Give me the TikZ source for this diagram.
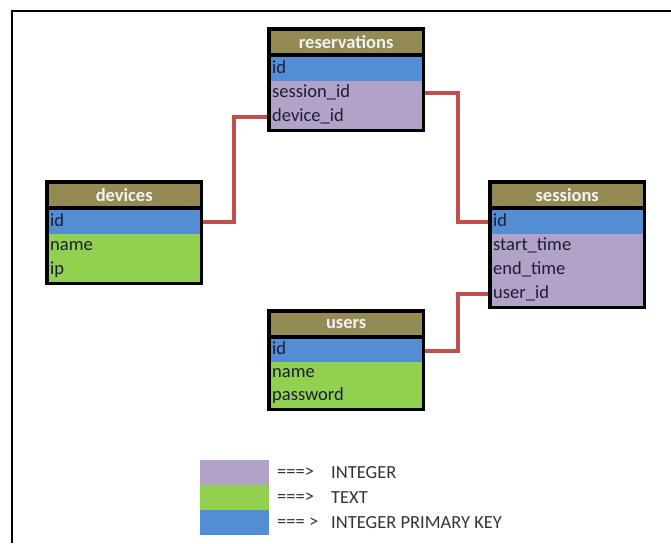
\documentclass[tikz,border=0pt]{standalone}
\usepackage{fontspec}
\setmainfont{Carlito}
\usetikzlibrary{calc}
\definecolor{hdrolive}{HTML}{948A54}
\definecolor{pkblue}{HTML}{538ED5}
\definecolor{intpurple}{HTML}{B3A2C7}
\definecolor{txtgreen}{HTML}{92D050}
\definecolor{linkred}{HTML}{C0504D}
\definecolor{fieldink}{HTML}{1C1C33}
\definecolor{legendink}{HTML}{333333}
\begin{document}
\begin{tikzpicture}[x=1pt,y=-1pt,
  tblframe/.style={fill=black, inner sep=0, anchor=north west, minimum width=158pt},
  hdr/.style={fill=hdrolive, text=white!95!black, font=\bfseries\fontsize{18.5}{18.5}\selectfont,
    inner sep=0, minimum width=151pt, minimum height=22pt, anchor=north west},
  fld/.style={inner xsep=1.5pt, inner ysep=0, minimum height=24pt, text width=148pt,
    anchor=north west, align=left, text=fieldink, font=\fontsize{18.5}{18.5}\selectfont,
    text height=12pt, text depth=4pt},
  link/.style={draw=linkred, line width=4pt, shorten <=3.5pt, shorten >=3.5pt},
  legbox/.style={inner sep=0, minimum width=69pt, minimum height=25pt, anchor=north west},
  legtxt/.style={anchor=west, inner sep=0, text=legendink, font=\fontsize{18.5}{18.5}\selectfont}]
\useasboundingbox (0,0) rectangle (671,543);
\draw[line width=2pt] (12,543) -- (12,11) -- (671,11);
% reservations
\node[tblframe, minimum height=105pt] (res) at (267,27) {};
\node[hdr] (res-h) at (270.5,31) {reservations};
\foreach \key/\txt/\col [count=\i from 0] in {id/id/pkblue, ses/session\_id/intpurple, dev/device\_id/intpurple}
  \node[fld, fill=\col] (res-\key) at (270.5,{57+24*\i}) {\txt};
% devices
\node[tblframe, minimum height=105pt] (dev) at (45,180) {};
\node[hdr] (dev-h) at (48.5,184) {devices};
\foreach \key/\txt/\col [count=\i from 0] in {id/id/pkblue, name/name/txtgreen, ip/ip/txtgreen}
  \node[fld, fill=\col] (dev-\key) at (48.5,{210+24*\i}) {\txt};
% sessions
\node[tblframe, minimum height=129pt] (ses) at (488,180) {};
\node[hdr] (ses-h) at (491.5,184) {sessions};
\foreach \key/\txt/\col [count=\i from 0] in {id/id/pkblue, start/start\_time/intpurple, end/end\_time/intpurple, user/user\_id/intpurple}
  \node[fld, fill=\col] (ses-\key) at (491.5,{210+24*\i}) {\txt};
% users
\node[tblframe, minimum height=102pt] (usr) at (267,309) {};
\node[hdr] (usr-h) at (270.5,313) {users};
\foreach \key/\txt/\col [count=\i from 0] in {id/id/pkblue, name/name/txtgreen, pass/password/txtgreen}
  \node[fld, fill=\col, minimum height=23pt] (usr-\key) at (270.5,{339+23*\i}) {\txt};
% links
\coordinate (bendL) at (234,0);
\coordinate (bendR) at (458,0);
\draw[link] (dev-id.east) -| (bendL |- res-dev.west) -- (res-dev.west);
\draw[link] (res-ses.east) -| (bendR |- ses-id.west) -- (ses-id.west);
\draw[link] (usr-id.east) -| (bendR |- ses-user.west) -- (ses-user.west);
% legend
\node[legbox, fill=intpurple] (leg-int) at (200,460) {};
\node[legbox, fill=txtgreen] (leg-text) at (200,485) {};
\node[legbox, fill=pkblue] (leg-pk) at (200,510) {};
\node[legtxt] (arr-int) at (277,472.5) {===>};
\node[legtxt] (arr-text) at (277,497.5) {===>};
\node[legtxt] (arr-pk) at (277,522.5) {=== >};
\node[legtxt] (lab-int) at (331,472.5) {INTEGER};
\node[legtxt] (lab-text) at (331,497.5) {TEXT};
\node[legtxt] (lab-pk) at (331,522.5) {INTEGER PRIMARY KEY};
\end{tikzpicture}
\end{document}
